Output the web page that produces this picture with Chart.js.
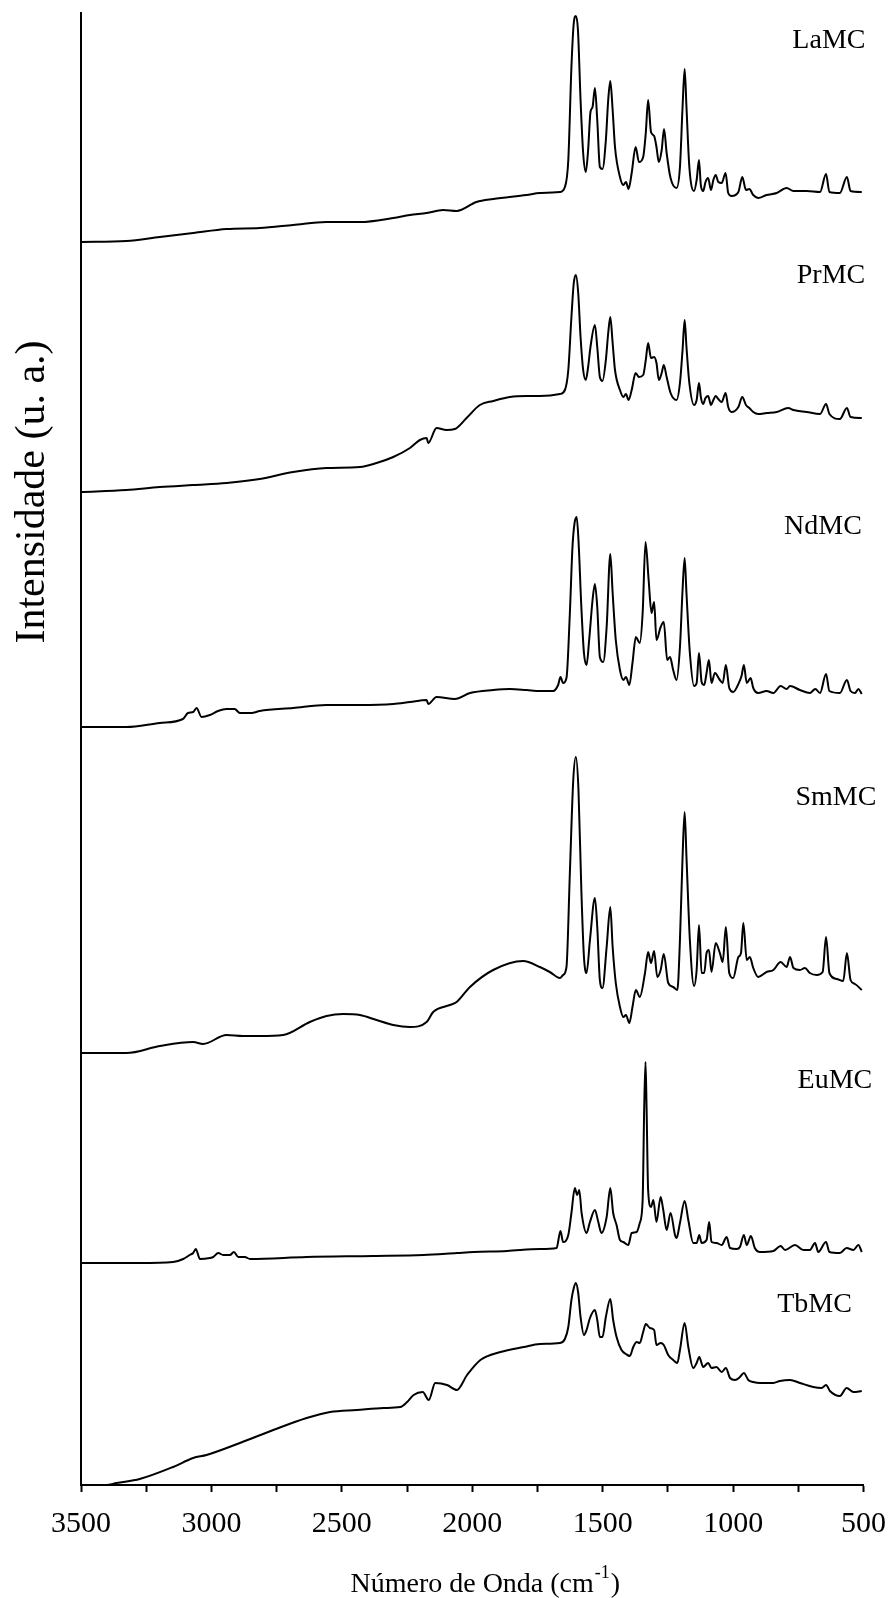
<!DOCTYPE html>
<html>
<head>
<meta charset="utf-8">
<script src="https://cdn.jsdelivr.net/npm/chart.js@4.4.0/dist/chart.umd.min.js"></script>
<style>
  html, body { margin: 0; padding: 0; background: #fff; }
</style>
</head>
<body>
<canvas id="ftir" width="888" height="1598"></canvas>
<script>
// FTIR spectra, stacked. Each pair is [wavenumber (cm-1), intensity (a.u., incl. offset)]
const laMC = [[3500,124.3],[3326,124.4],[3198,124.8],[3070,125.2],[2942,125.6],[2815,125.7],[2687,126.0],[2559,126.3],[2431,126.3],[2303,126.7],[2239,127.0],[2175,127.2],[2112,127.5],[2060,127.4],[1984,128.3],[1920,128.6],[1792,129.0],[1741,129.2],[1664,129.3],[1645,129.8],[1632,132.5],[1620,141.8],[1611,146.2],[1603,146.9],[1595,145.5],[1585,138.5],[1575,133.2],[1565,131.3],[1556,133.5],[1547,137.3],[1539,137.8],[1530,139.7],[1521,136.5],[1511,131.8],[1501,131.6],[1488,134.5],[1479,138.5],[1471,140.4],[1462,137.5],[1453,133.8],[1434,130.8],[1421,130.0],[1411,130.3],[1401,129.6],[1389,131.2],[1374,133.8],[1361,132.3],[1345,132.8],[1335,135.2],[1326,138.5],[1315,135.3],[1303,134.9],[1294,133.8],[1285,132.3],[1274,133.5],[1265,135.6],[1255,133.2],[1240,130.7],[1217,129.7],[1204,131.8],[1194,137.8],[1186,141.6],[1179,137.8],[1168,131.8],[1150,129.4],[1140,130.5],[1131,132.5],[1124,130.0],[1115,129.4],[1106,130.3],[1096,130.7],[1085,129.5],[1076,130.5],[1067,131.0],[1057,130.3],[1044,130.2],[1029,131.2],[1019,129.2],[1006,128.9],[980,129.3],[965,130.8],[951,129.5],[938,129.6],[923,129.0],[904,128.7],[872,129.0],[833,129.2],[795,129.7],[769,129.4],[718,129.4],[667,129.3],[644,131.1],[631,129.3],[591,129.2],[564,130.8],[550,129.4],[507,129.3]];

const prMC = [[3500,99.3],[3326,99.5],[3198,99.8],[3070,100.0],[2942,100.2],[2815,100.6],[2687,101.3],[2559,101.7],[2431,101.8],[2367,102.2],[2303,102.8],[2239,103.7],[2201,104.5],[2175,104.7],[2169,104.2],[2137,105.7],[2099,105.5],[2067,105.6],[2022,106.7],[1971,108.0],[1920,108.4],[1856,108.8],[1792,108.9],[1741,108.9],[1664,109.1],[1645,109.5],[1632,111.5],[1620,116.8],[1611,120.2],[1603,121.0],[1594,119.2],[1585,114.8],[1575,111.5],[1565,110.5],[1556,111.8],[1547,113.8],[1530,116.0],[1521,113.8],[1511,110.8],[1501,110.4],[1488,112.5],[1479,115.2],[1471,116.8],[1462,114.2],[1453,111.5],[1434,109.5],[1421,108.8],[1411,109.1],[1401,108.5],[1389,109.5],[1374,111.2],[1361,110.8],[1345,111.0],[1335,112.5],[1326,114.2],[1315,112.7],[1303,112.8],[1294,112.2],[1285,110.5],[1274,111.2],[1266,112.0],[1255,110.8],[1240,109.2],[1217,108.5],[1204,110.2],[1194,113.5],[1186,116.5],[1179,113.8],[1168,110.2],[1150,108.0],[1140,108.5],[1131,110.2],[1124,108.8],[1115,108.1],[1106,108.7],[1096,108.9],[1085,108.0],[1076,108.5],[1067,108.9],[1057,108.6],[1044,108.3],[1029,109.2],[1019,107.8],[1006,107.3],[980,107.8],[965,108.8],[951,108.0],[938,107.7],[923,107.3],[904,107.1],[872,107.2],[833,107.3],[789,107.7],[769,107.5],[718,107.3],[667,107.1],[644,108.1],[631,107.1],[591,106.6],[564,107.7],[550,106.8],[507,106.7]];

const ndMC = [[3500,75.8],[3326,75.8],[3198,76.2],[3109,76.6],[3090,77.2],[3070,77.3],[3057,77.7],[3038,76.8],[3006,77.0],[2975,77.4],[2942,77.6],[2911,77.6],[2891,77.2],[2847,77.2],[2815,77.4],[2687,77.7],[2559,78.0],[2431,78.0],[2303,78.1],[2239,78.3],[2175,78.5],[2169,78.1],[2137,78.8],[2067,78.6],[2009,79.2],[1920,79.5],[1856,79.6],[1792,79.5],[1741,79.4],[1690,79.4],[1671,80.0],[1662,80.8],[1652,80.2],[1639,80.7],[1626,87.2],[1616,93.8],[1608,96.2],[1600,96.8],[1593,94.5],[1582,87.8],[1572,83.2],[1562,82.0],[1552,84.5],[1539,88.5],[1530,90.1],[1521,87.8],[1511,82.8],[1498,82.3],[1485,85.8],[1471,93.1],[1462,89.2],[1450,84.5],[1434,81.5],[1421,80.5],[1411,80.8],[1398,80.0],[1386,82.2],[1373,84.8],[1358,84.2],[1347,87.2],[1336,94.3],[1324,90.5],[1313,87.2],[1303,88.3],[1294,84.5],[1278,85.8],[1266,86.3],[1253,82.5],[1242,82.8],[1230,81.5],[1217,80.5],[1204,83.8],[1194,89.5],[1186,92.7],[1179,89.2],[1166,83.2],[1150,79.9],[1140,80.2],[1131,83.2],[1121,80.3],[1111,80.0],[1102,81.2],[1093,82.5],[1083,80.2],[1070,81.2],[1051,80.5],[1040,80.2],[1028,82.0],[1015,79.7],[1000,79.3],[980,80.1],[968,80.9],[959,82.0],[948,80.2],[933,80.7],[923,79.7],[904,79.2],[872,79.4],[846,79.2],[818,79.9],[795,79.6],[782,79.9],[744,79.5],[706,79.2],[685,79.6],[667,79.2],[644,81.1],[631,79.4],[591,79.2],[564,80.5],[550,79.4],[533,79.2],[520,79.6],[507,79.1]];

const smMC = [[3500,43.2],[3326,43.2],[3198,43.9],[3070,44.3],[3032,44.1],[2942,45.0],[2879,44.9],[2815,44.9],[2725,45.0],[2623,46.3],[2559,46.9],[2495,47.1],[2431,47.0],[2367,46.5],[2303,46.0],[2239,45.8],[2175,46.3],[2150,47.3],[2086,48.0],[2060,48.3],[2009,49.8],[1920,51.5],[1805,52.4],[1741,51.8],[1703,51.3],[1664,50.7],[1652,51.0],[1639,51.8],[1626,61.2],[1613,70.5],[1603,72.8],[1593,69.5],[1582,59.5],[1572,52.8],[1562,51.2],[1549,54.5],[1530,58.7],[1521,55.8],[1511,50.5],[1501,49.7],[1485,53.8],[1471,57.8],[1462,53.8],[1450,50.2],[1434,47.8],[1421,46.8],[1411,47.0],[1398,46.2],[1386,47.8],[1373,49.5],[1358,48.8],[1338,51.2],[1326,53.3],[1315,52.2],[1303,53.4],[1291,50.8],[1278,51.5],[1266,53.1],[1249,50.2],[1230,49.8],[1214,49.5],[1204,54.5],[1194,62.8],[1186,67.3],[1179,62.8],[1166,54.5],[1150,49.9],[1140,51.5],[1131,56.0],[1121,51.2],[1111,51.2],[1102,53.2],[1093,53.5],[1083,51.3],[1067,54.2],[1051,53.2],[1040,52.3],[1028,55.8],[1015,51.2],[1000,50.7],[980,52.8],[970,53.2],[961,56.2],[948,52.5],[936,52.8],[923,51.7],[904,50.8],[872,51.3],[846,51.5],[818,52.3],[795,51.8],[782,52.8],[769,51.7],[744,51.5],[725,51.7],[706,51.2],[680,51.0],[657,51.3],[644,54.8],[631,51.2],[603,50.6],[578,50.4],[564,53.2],[550,50.5],[533,50.1],[507,49.5]];

const euMC = [[3500,22.2],[3275,22.2],[3147,22.3],[3108,22.6],[3083,23.0],[3070,23.2],[3060,23.6],[3044,22.6],[3006,22.7],[2993,22.8],[2974,23.2],[2955,23.0],[2929,23.0],[2914,23.3],[2897,22.8],[2872,22.8],[2852,22.6],[2635,22.8],[2379,22.9],[2187,23.0],[2059,23.2],[1995,23.3],[1867,23.4],[1741,23.6],[1677,23.7],[1662,25.4],[1652,24.3],[1632,25.0],[1620,27.2],[1607,29.7],[1598,29.0],[1590,29.5],[1581,27.2],[1562,25.2],[1549,26.3],[1530,27.5],[1517,26.3],[1505,25.2],[1485,26.8],[1471,29.7],[1460,27.2],[1447,26.0],[1434,24.5],[1421,24.3],[1402,24.0],[1389,25.2],[1370,25.3],[1358,26.2],[1347,28.5],[1341,37.8],[1336,42.3],[1332,37.8],[1326,29.5],[1315,27.8],[1306,28.5],[1294,26.3],[1278,28.8],[1268,27.5],[1255,25.5],[1240,27.2],[1223,25.0],[1217,24.7],[1204,26.2],[1186,28.4],[1172,26.5],[1153,24.2],[1140,24.2],[1130,25.0],[1121,24.2],[1102,24.5],[1092,26.3],[1083,24.3],[1064,24.2],[1044,24.0],[1025,24.8],[1012,23.7],[987,23.6],[974,23.8],[959,25.0],[948,24.0],[932,24.9],[917,23.7],[897,23.3],[846,23.4],[818,23.9],[801,23.5],[763,24.0],[731,23.5],[706,23.5],[686,24.2],[674,23.3],[644,24.3],[631,23.3],[591,23.2],[565,23.7],[539,23.5],[520,24.0],[507,23.3]];

const tbMC = [[3500,0.0],[3403,0.0],[3364,0.2],[3275,0.6],[3147,1.8],[3070,2.7],[3019,3.0],[2891,4.2],[2763,5.5],[2635,6.7],[2545,7.3],[2443,7.5],[2340,7.7],[2276,7.8],[2250,8.3],[2225,9.0],[2190,9.3],[2167,8.5],[2142,10.2],[2097,10.0],[2059,9.5],[2020,11.0],[1969,12.5],[1892,13.3],[1803,13.8],[1741,14.1],[1664,14.2],[1645,14.6],[1632,15.8],[1620,18.5],[1611,19.7],[1603,20.2],[1594,19.2],[1585,16.8],[1572,15.0],[1562,15.5],[1549,16.7],[1530,17.5],[1521,16.5],[1511,14.8],[1501,14.8],[1488,16.8],[1471,18.6],[1460,16.5],[1447,14.8],[1428,13.5],[1411,13.1],[1396,12.9],[1383,13.8],[1370,14.3],[1358,14.2],[1345,15.3],[1335,16.1],[1319,15.7],[1303,15.5],[1294,14.0],[1278,14.2],[1266,14.0],[1249,13.0],[1230,12.5],[1214,12.2],[1204,13.5],[1186,16.2],[1172,13.8],[1153,11.7],[1140,12.2],[1130,12.8],[1115,11.8],[1096,12.2],[1083,11.7],[1064,11.8],[1044,11.3],[1028,11.7],[1012,10.7],[993,10.5],[974,10.8],[959,11.2],[942,10.5],[923,10.3],[897,10.2],[846,10.2],[821,10.4],[782,10.5],[744,10.2],[693,9.8],[661,9.7],[644,10.0],[629,9.4],[591,8.9],[565,9.7],[539,9.3],[507,9.4]];

const sampleNames = ["LaMC", "PrMC", "NdMC", "SmMC", "EuMC", "TbMC"];
const sampleData = [laMC, prMC, ndMC, smMC, euMC, tbMC];
// where each name is written: [wavenumber, intensity] of the text baseline centre
const namePos = [[633,143.7],[625,120.2],[656,95.1],[606,68.0],[610,39.7],[688,17.3]];

const xTicks = [3500,3250,3000,2750,2500,2250,2000,1750,1500,1250,1000,750,500];
const xTickLabels = [3500,3000,2500,2000,1500,1000,500];

const serif = "'Liberation Serif', 'Times New Roman', serif";

// names, axis titles
const textPlugin = {
    id: "ftirText",
    afterDraw(chart) {
        const c = chart.ctx;
        const xs = chart.scales.x, ys = chart.scales.y;
        c.save();
        c.fillStyle = "#000";

        c.font = "28px " + serif;
        c.textAlign = "center";
        c.textBaseline = "alphabetic";
        sampleNames.forEach((n, i) => {
            c.fillText(n, xs.getPixelForValue(namePos[i][0]), ys.getPixelForValue(namePos[i][1]));
        });

        // x title with superscript
        const main = "Número de Onda (cm", sup = "-1", close = ")";
        c.font = "28px " + serif;
        const w1 = c.measureText(main).width, w3 = c.measureText(close).width;
        c.font = "18px " + serif;
        const w2 = c.measureText(sup).width;
        const cx = (chart.chartArea.left + chart.chartArea.right) / 2 + 12;
        let x0 = cx - (w1 + w2 + w3) / 2;
        const yb = 1592;
        c.textAlign = "left";
        c.font = "28px " + serif;
        c.fillText(main, x0, yb);
        c.font = "18px " + serif;
        c.fillText(sup, x0 + w1 + 1, yb - 14);
        c.font = "28px " + serif;
        c.fillText(close, x0 + w1 + w2 + 2, yb);

        // y title
        c.translate(44, 492);
        c.rotate(-Math.PI / 2);
        c.textAlign = "center";
        c.font = "42px " + serif;
        c.fillText("Intensidade (u. a.)", 0, 0);
        c.restore();
    }
};

const ctx = document.getElementById("ftir").getContext("2d");

new Chart(ctx, {
    type: "line",
    data: {
        datasets: sampleData.map((pts, i) => ({
            label: sampleNames[i],
            data: pts.map(p => ({ x: p[0], y: p[1] })),
            borderColor: "#000",
            borderWidth: 2,
            pointRadius: 0,
            cubicInterpolationMode: "monotone",
            fill: false
        }))
    },
    options: {
        responsive: false,
        animation: false,
        layout: { padding: { top: 13, right: 0, left: 0, bottom: 0 } },
        plugins: {
            legend: { display: false },
            tooltip: { enabled: false }
        },
        scales: {
            x: {
                type: "linear",
                reverse: true,
                min: 500,
                max: 3500,
                afterFit: s => { s.height = 113; s.paddingLeft = 0; s.paddingRight = 24.4; },
                afterBuildTicks: s => { s.ticks = xTicks.map(v => ({ value: v })); },
                ticks: {
                    autoSkip: false,
                    maxRotation: 0,
                    color: "#000",
                    padding: 14,
                    font: { family: serif, size: 30 },
                    callback: v => xTickLabels.includes(v) ? String(v) : ""
                },
                grid: { drawOnChartArea: false, tickLength: 7, tickWidth: 2, color: "#000" },
                border: { color: "#000", width: 2 }
            },
            y: {
                min: 0,
                max: 147.2,
                afterFit: s => { s.width = 81; },
                ticks: { display: false },
                grid: { display: false },
                border: { color: "#000", width: 2 }
            }
        }
    },
    plugins: [textPlugin]
});
</script>
</body>
</html>
